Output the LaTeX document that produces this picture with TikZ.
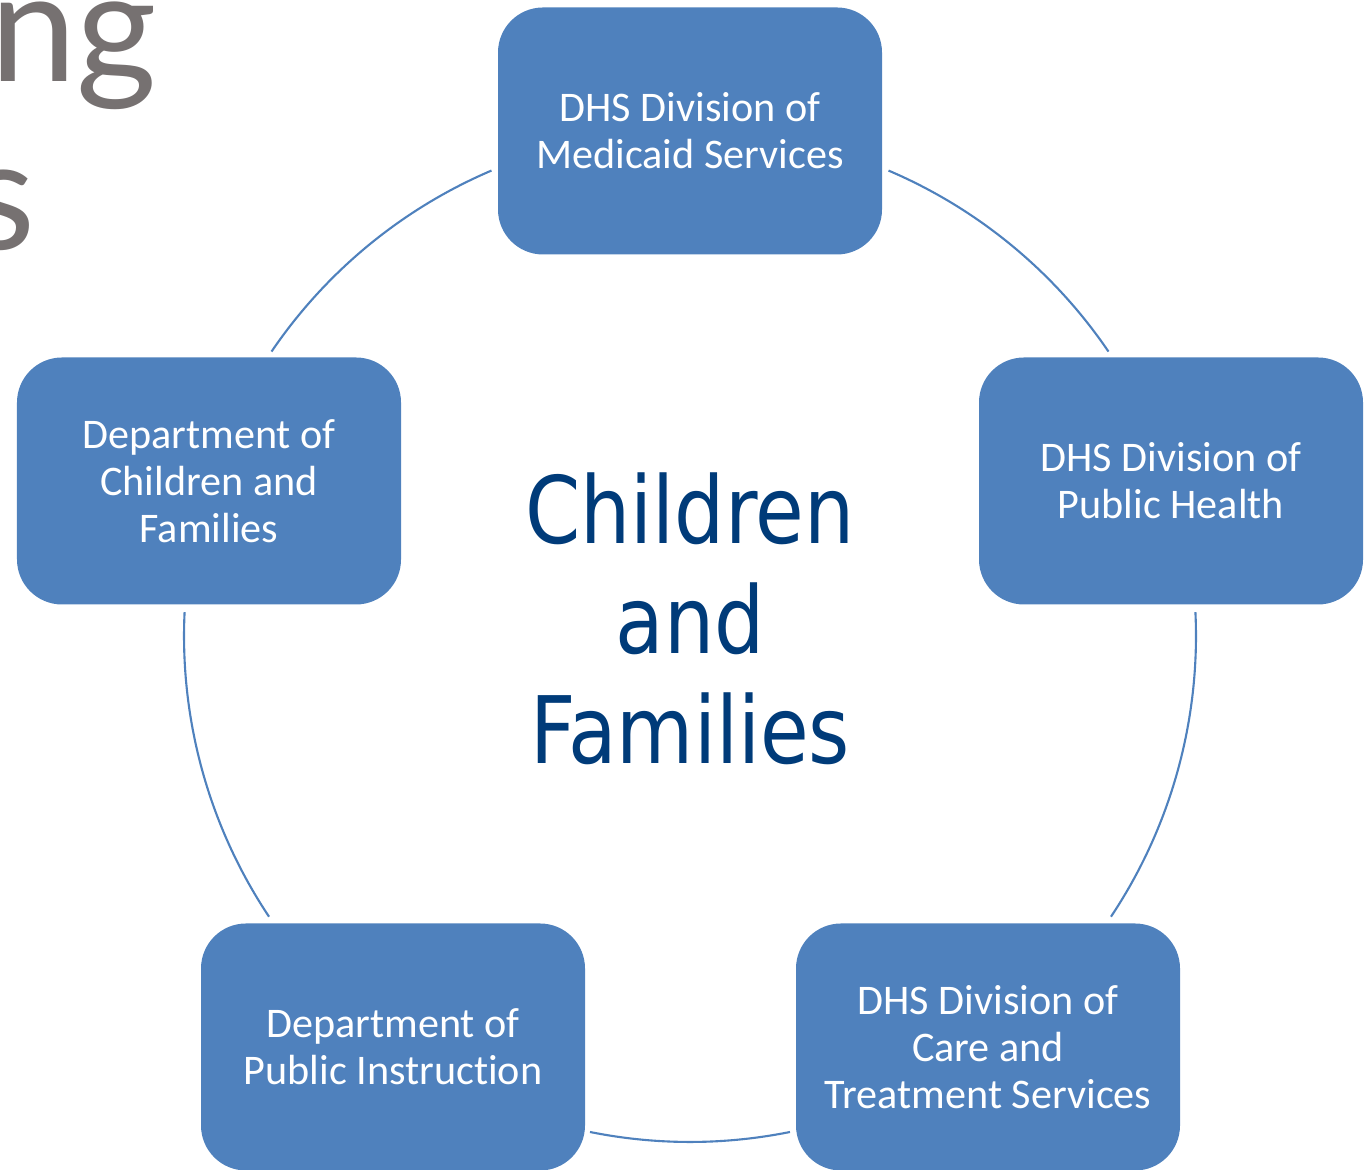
\documentclass[tikz,border=0pt]{standalone}
\usepackage{fontspec}
\setmainfont{Carlito}[Ligatures=NoCommon]
\newfontfamily\hubfont[FakeStretch=0.85]{DejaVu Sans}
\newfontfamily\titlefont{Lato}
\definecolor{boxblue}{HTML}{4F81BD}
\definecolor{hubblue}{HTML}{003B79}
\definecolor{titlegray}{HTML}{767171}
\tikzset{
  agency/.style={fill=boxblue, rounded corners=4.5mm, minimum width=3.84cm,
    minimum height=2.47cm, text=white, align=center,
    font=\fontsize{12pt}{13.4pt}\selectfont},
  link/.style={boxblue, line width=0.6pt},
  cuttitle/.style={titlegray, anchor=base east, inner sep=0pt,
    font=\titlefont\fontsize{44pt}{50pt}\selectfont}
}
\begin{document}
\begin{tikzpicture}
    \useasboundingbox (0,0) rectangle (13.71,11.70);
    \clip (0,0) rectangle (13.71,11.70);

    % title running off the left edge
    \node[cuttitle] (titleA) at (1.58,10.88) {ng};
    \node[cuttitle] (titleB) at (0.36,9.20) {s};

    \coordinate (hub) at (6.90,5.34);
    \def\ringr{5.06}

    \node[agency] (medicaid) at (6.90,10.39) {DHS Division of\\Medicaid Services};
    \node[agency] (health) at (11.71,6.89) {DHS Division of\\Public Health};
    \node[agency] (care) at (9.88,1.23) {DHS Division of\\Care and\\Treatment Services};
    \node[agency] (dpi) at (3.93,1.23) {Department of\\Public Instruction};
    \node[agency] (dcf) at (2.09,6.89) {Department of\\Children and\\Families};

    \node[hubblue, inner sep=0pt, align=center,
          font=\hubfont\fontsize{26.5pt}{31.3pt}\selectfont] (focus) at (6.90,5.51) {Children\\and\\Families};

    % ring segments between the boxes
    \draw[link] (hub) ++(66.9:\ringr) arc[start angle=66.9, end angle=34.2, radius=\ringr];
    \draw[link] (hub) ++(2.7:\ringr) arc[start angle=2.7, end angle=-33.7, radius=\ringr];
    \draw[link] (hub) ++(-78.6:\ringr) arc[start angle=-78.6, end angle=-101.4, radius=\ringr];
    \draw[link] (hub) ++(213.7:\ringr) arc[start angle=213.7, end angle=177.3, radius=\ringr];
    \draw[link] (hub) ++(145.8:\ringr) arc[start angle=145.8, end angle=113.1, radius=\ringr];
\end{tikzpicture}
\end{document}
